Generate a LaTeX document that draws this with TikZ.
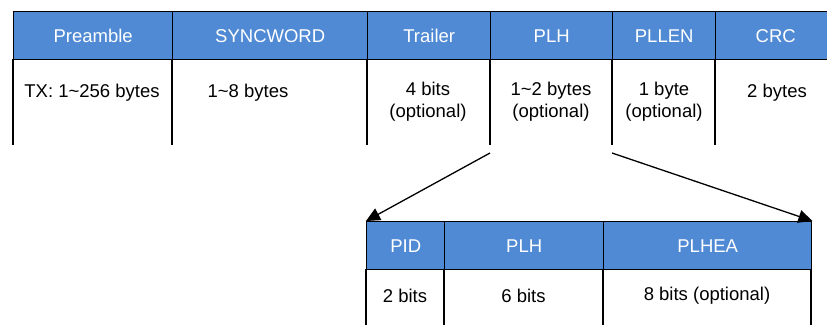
\documentclass[tikz,border=0pt]{standalone}
\usepackage{fontspec}
\setmainfont{Liberation Sans}
\usetikzlibrary{arrows.meta}
\definecolor{hdrblue}{RGB}{80,138,212}
\begin{document}
\begin{tikzpicture}[x=1pt,y=-1pt,
  hdr/.style={draw=black,line width=1.4pt,fill=hdrblue,text=white,anchor=north west,
    minimum height=48pt,inner sep=0pt,font=\fontsize{18.5}{21}\selectfont},
  body/.style={inner sep=0pt,align=center,font=\fontsize{18.5}{22}\selectfont},
  rule/.style={line width=1.4pt,black},
  arr/.style={line width=1.3pt,-{Triangle[length=14pt,width=13pt]}}]
\useasboundingbox (0,0) rectangle (827,324);
% top table header
\node[hdr,minimum width=159pt] (h1) at (13,11) {Preamble};
\node[hdr,minimum width=195pt] (h2) at (172,11) {SYNCWORD};
\node[hdr,minimum width=123pt] (h3) at (367,11) {Trailer};
\node[hdr,minimum width=122pt] (h4) at (490,11) {PLH};
\node[hdr,minimum width=103pt] (h5) at (612,11) {PLLEN};
\node[hdr,minimum width=120pt] (h6) at (715,11) {CRC};
% top table body
\node[body] (b1) at (92,93) {TX: 1\textasciitilde256 bytes};
\node[body] (b2) at (248,93) {1\textasciitilde8 bytes};
\node[body] (b3) at (428,101.5) {4 bits\\(optional)};
\node[body] (b4) at (551,101.5) {1\textasciitilde2 bytes\\(optional)};
\node[body] (b5) at (664,101.5) {1 byte\\(optional)};
\node[body] (b6) at (777,93) {2 bytes};
\foreach \x in {13,172,367,490,612,715} \draw[rule] (\x,59) -- (\x,145);
% bottom table header
\node[hdr,minimum width=78pt] (p1) at (366,221) {PID};
\node[hdr,minimum width=159pt] (p2) at (444,221) {PLH};
\node[hdr,minimum width=208pt] (p3) at (603,221) {PLHEA};
\node[body] (q1) at (405,296) {2 bits};
\node[body] (q2) at (523.5,296) {6 bits};
\node[body] (q3) at (707,296) {8 bits (optional)};
\foreach \x in {366,444,603,811} \draw[rule] (\x,269) -- (\x,326);
% arrows
\coordinate (s1) at (490,153);
\coordinate (s2) at (612,153);
\draw[arr] (s1) -- (p1.north west);
\draw[arr] (s2) -- (p3.north east);
\end{tikzpicture}
\end{document}
